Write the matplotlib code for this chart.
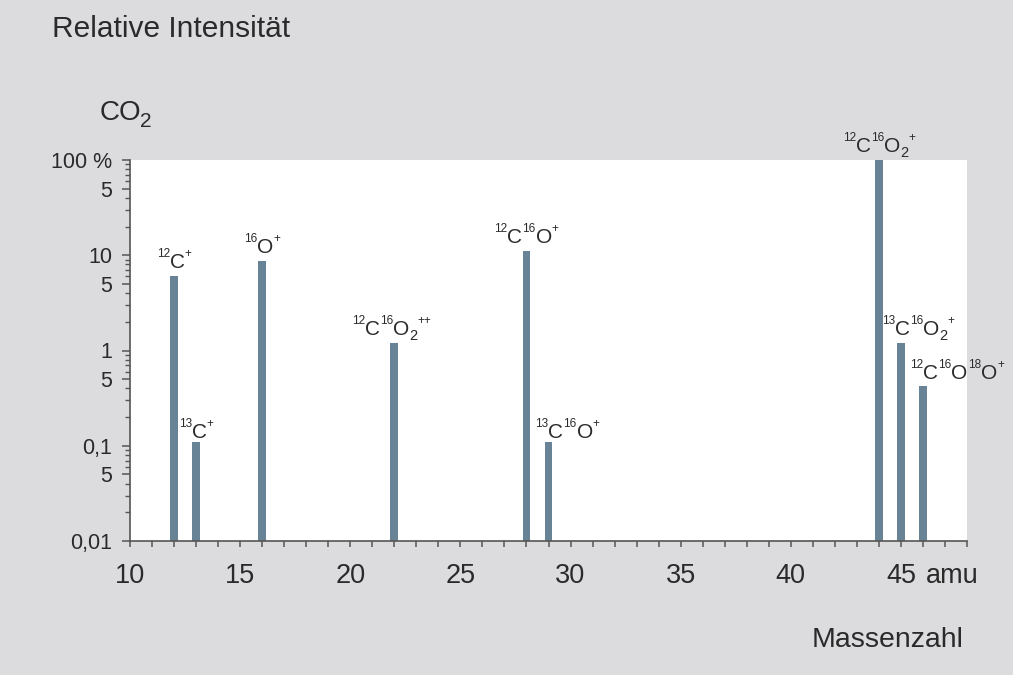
import matplotlib
matplotlib.use("Agg")
import matplotlib.pyplot as plt
from matplotlib.ticker import FixedLocator, NullFormatter

plt.rcParams['font.family'] = ['Liberation Sans', 'DejaVu Sans']

# mass numbers and relative intensities (%)
masses = [12, 13, 16, 22, 28, 29, 44, 45, 46]
intensity = [6.0, 0.1, 8.6, 1.2, 11.2, 0.1, 100, 1.2, 0.41]
# ion labels as pieces: (text, kind)  kind: n = normal, u = superscript, d = subscript
ion_labels = [
    [('12', 'u'), ('C', 'n'), ('+', 'u')],
    [('13', 'u'), ('C', 'n'), ('+', 'u')],
    [('16', 'u'), ('O', 'n'), ('+', 'u')],
    [('12', 'u'), ('C', 'n'), ('16', 'u'), ('O', 'n'), ('2', 'd'), ('++', 'u')],
    [('12', 'u'), ('C', 'n'), ('16', 'u'), ('O', 'n'), ('+', 'u')],
    [('13', 'u'), ('C', 'n'), ('16', 'u'), ('O', 'n'), ('+', 'u')],
    [('12', 'u'), ('C', 'n'), ('16', 'u'), ('O', 'n'), ('2', 'd'), ('+', 'u')],
    [('13', 'u'), ('C', 'n'), ('16', 'u'), ('O', 'n'), ('2', 'd'), ('+', 'u')],
    [('12', 'u'), ('C', 'n'), ('16', 'u'), ('O', 'n'), ('18', 'u'), ('O', 'n'), ('+', 'u')],
]
# horizontal shift of each label centre (pixels)
label_dx = [0, 0, 0, -3, 0, 19, 0, 17, 34]

y_ticks = [0.01, 0.05, 0.1, 0.5, 1, 5, 10, 50, 100]
y_ticklabels = ['0,01', '5', '0,1', '5', '1', '5', '10', '5', '100 %']
x_ticks = [10, 15, 20, 25, 30, 35, 40, 45]

bg = '#dcdcde'
bar_color = '#688396'
txt = '#2a2a2a'
spine = '#555555'

# size (pt) and vertical shift (px) of label pieces
piece_style = {'n': (15, 0), 'u': (8.5, 11), 'd': (10.5, -5)}

fig = plt.figure(figsize=(10.13, 6.75), dpi=100, facecolor=bg)
ax = fig.add_axes([130 / 1013, 1 - 541 / 675, (967 - 130) / 1013, (541 - 160) / 675])
ax.set_facecolor('white')

ax.bar(masses, intensity, width=0.36, bottom=0.01, color=bar_color, zorder=2)
ax.set_yscale('log')
ax.set_ylim(0.01, 100)
ax.set_xlim(10, 48)

renderer = fig.canvas.get_renderer()


def draw_label(x, y, pieces, dx, gap=8):
    texts = []
    widths = []
    for s, kind in pieces:
        size, dy = piece_style[kind]
        t = ax.annotate(s, xy=(x, y), xytext=(0, gap + dy), textcoords='offset pixels',
                        ha='left', va='baseline', fontsize=size, color=txt,
                        annotation_clip=False)
        texts.append(t)
        widths.append(t.get_window_extent(renderer).width)
    pos = dx - sum(widths) / 2
    for t, w, (s, kind) in zip(texts, widths, pieces):
        t.xyann = (pos, gap + piece_style[kind][1])
        pos += w


for m, v, lab, dx in zip(masses, intensity, ion_labels, label_dx):
    draw_label(m, v, lab, dx)

# axes styling
for s in ['top', 'right']:
    ax.spines[s].set_visible(False)
for s in ['left', 'bottom']:
    ax.spines[s].set_color(spine)
    ax.spines[s].set_linewidth(1.2)

ax.yaxis.set_major_locator(FixedLocator(y_ticks))
ax.set_yticklabels(y_ticklabels)
minor_y = [m * 10.0 ** e for e in range(-2, 2) for m in [2, 3, 4, 6, 7, 8, 9]]
ax.yaxis.set_minor_locator(FixedLocator(minor_y))
ax.yaxis.set_minor_formatter(NullFormatter())
ax.tick_params(axis='y', which='major', length=6, width=1.1, color=spine,
               labelsize=15.5, labelcolor=txt, pad=7)
ax.tick_params(axis='y', which='minor', length=3.5, width=1.0, color=spine)

ax.set_xticks(x_ticks)
ax.set_xticks(range(10, 49), minor=True)
ax.tick_params(axis='x', which='both', length=4.5, width=1.1, color=spine,
               labelsize=19.5, labelcolor=txt, pad=11.5)

ax.text(46.15, -42 / 381, 'amu', transform=ax.get_xaxis_transform(), ha='left',
        va='baseline', fontsize=19.5, color=txt)

fig.text(52 / 1013, 1 - 37 / 675, 'Relative Intensität', fontsize=21.5,
         color=txt, ha='left', va='baseline')
fig.text(100 / 1013, 1 - 120 / 675, 'CO', fontsize=20,
         color=txt, ha='left', va='baseline')
fig.text(140 / 1013, 1 - 127 / 675, '2', fontsize=15,
         color=txt, ha='left', va='baseline')
fig.text(963 / 1013, 1 - 647 / 675, 'Massenzahl', fontsize=20.5,
         color=txt, ha='right', va='baseline')

fig.savefig('out.png', dpi=100, facecolor=bg)
